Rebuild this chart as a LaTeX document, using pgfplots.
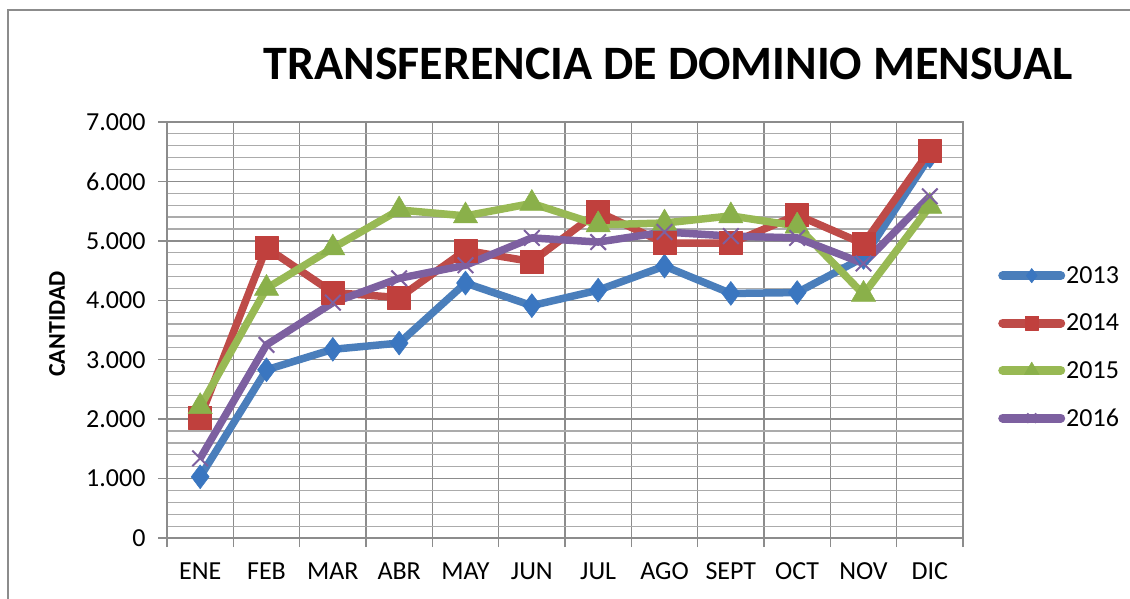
\documentclass[border=0pt]{standalone}
\usepackage{fontspec}
\setmainfont{Carlito}
\usepackage{pgfplots}
\pgfplotsset{compat=1.18}
\usepackage{pgfplotstable}
\definecolor{c13}{HTML}{4A7EBB}
\definecolor{c14}{HTML}{BE4B48}
\definecolor{c15}{HTML}{98B954}
\definecolor{c16}{HTML}{7D60A0}
\definecolor{m13}{HTML}{3A76C0}
\definecolor{m14}{HTML}{C0403D}
\definecolor{m15}{HTML}{8AB04A}
\definecolor{gridmaj}{HTML}{8C8C8C}
\definecolor{gridmin}{HTML}{ABABAB}

\pgfplotstableread{
x  y13  y14  y15  y16
0  1030 2030 2210 1340
1  2830 4885 4200 3250
2  3175 4130 4880 3960
3  3280 4045 5520 4370
4  4290 4840 5420 4590
5  3910 4650 5630 5050
6  4170 5490 5270 4980
7  4575 4960 5300 5150
8  4115 4960 5420 5080
9  4130 5435 5250 5050
10 4720 4950 4100 4620
11 6420 6520 5580 5750
}\datatable

\begin{document}
\begin{tikzpicture}[x=1pt,y=1pt]
\useasboundingbox (0,0) rectangle (1130,598);
\draw[gridmaj, line width=1.5pt] (8,-10) -- (8,588) -- (1140,588);
\node[anchor=base, font=\fontsize{48}{52}\selectfont\bfseries] at (668,518) {TRANSFERENCIA DE DOMINIO MENSUAL};
\node[rotate=90, font=\fontsize{24}{28}\selectfont\bfseries] at (57,274) {CANTIDAD};
\begin{axis}[
  at={(167pt,60pt)}, anchor=south west,
  width=796pt, height=416pt, scale only axis,
  xmin=-0.5, xmax=11.5, ymin=0, ymax=7000,
  xtick={-0.5,0.5,...,11.5},
  x tick label as interval,
  xticklabels={ENE,FEB,MAR,ABR,MAY,JUN,JUL,AGO,SEPT,OCT,NOV,DIC},
  ytick={0,1000,...,7000},
  minor y tick num=4,
  xmajorgrids, ymajorgrids, yminorgrids,
  major grid style={gridmaj, line width=1.4pt},
  minor grid style={gridmin, line width=1.2pt},
  axis line style={gridmaj, line width=1.4pt},
  tick style={gridmaj, line width=1.4pt},
  major tick length=9pt, minor tick length=0pt,
  tick align=outside,
  tick pos=left,
  /pgf/number format/.cd, 1000 sep={.}, assume math mode=true,
  /pgfplots/.cd,
  ticklabel style={font=\fontsize{26}{30}\selectfont},
  yticklabel style={xshift=-9pt},
  xticklabel style={yshift=-12pt},
  legend style={at={(1.044,0.459)}, anchor=west, draw=none, fill=none,
     font=\fontsize{26}{30}\selectfont, row sep=27pt, inner sep=0pt,
     nodes={inner sep=1pt}},
  legend cell align=left,
  legend image code/.code={
    \draw[#1, mark=none, line cap=round, line width=9pt] (0pt,0pt) -- (58pt,0pt);
    \draw[#1, every mark/.append style={scale=0.6}] plot coordinates {(29pt,0pt)};
  },
  clip=false,
]
\addplot[c13, line width=7.5pt, line join=round, mark=diamond*, mark size=12pt, mark options={fill=m13, draw=m13, line width=0.5pt}] table[x=x,y=y13] {\datatable};
\addlegendentry{2013}
\addplot[c14, line width=7.5pt, line join=round, mark=square*, mark size=11.5pt, mark options={fill=m14, draw=m14, line width=0.5pt}] table[x=x,y=y14] {\datatable};
\addlegendentry{2014}
\addplot[c15, line width=7.5pt, line join=round, mark=triangle*, mark size=14pt, mark options={fill=m15, draw=m15, line width=0.5pt}] table[x=x,y=y15] {\datatable};
\addlegendentry{2015}
\addplot[c16, line width=7.5pt, line join=round, mark=x, mark size=11pt, mark options={draw=c16, line width=2pt}] table[x=x,y=y16] {\datatable};
\addlegendentry{2016}
\end{axis}
\end{tikzpicture}
\end{document}
